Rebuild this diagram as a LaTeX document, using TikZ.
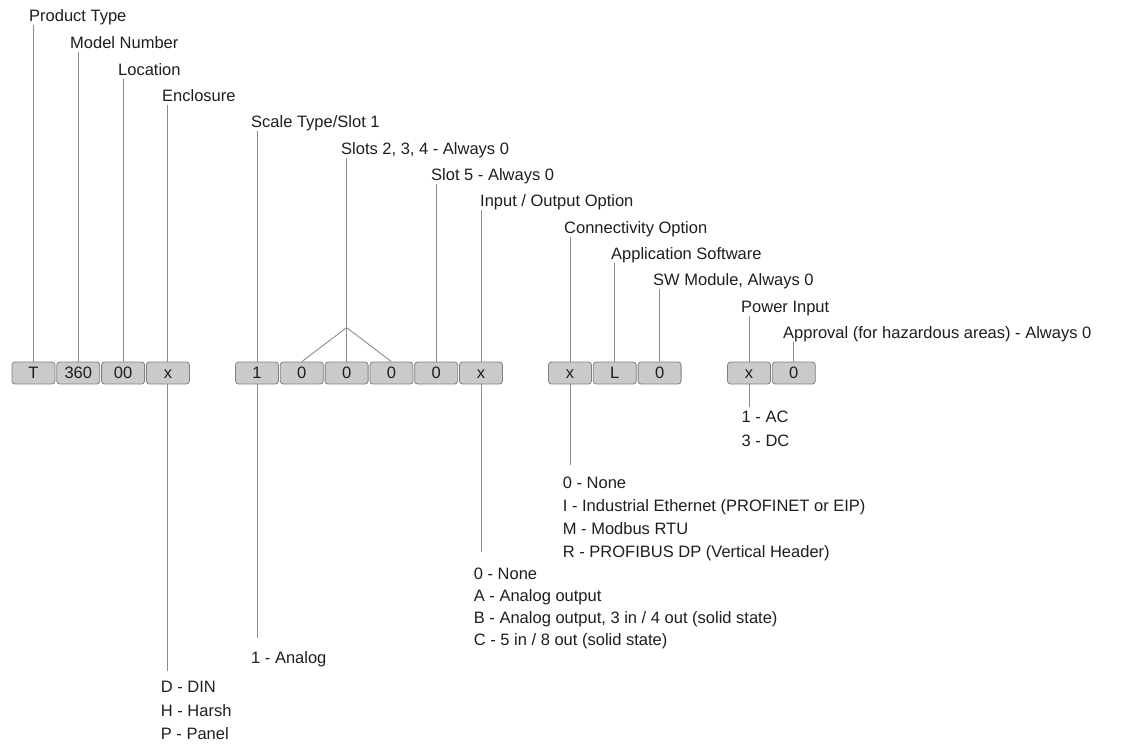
\documentclass[tikz,border=0pt]{standalone}
\usepackage{fontspec}
\setmainfont{Liberation Sans}
\usetikzlibrary{positioning}
\definecolor{boxgray}{RGB}{202, 202, 202}
\definecolor{boxedge}{RGB}{128, 128, 128}
\definecolor{linegray}{RGB}{140, 140, 140}
\definecolor{textdark}{RGB}{30, 30, 30}
\newcommand{\codefont}{\fontsize{16.5}{23}\selectfont}
\tikzset{
  codebox/.style={draw=boxedge, fill=boxgray, rounded corners=3pt, line width=0.8pt,
    minimum width=43pt, minimum height=22pt, inner sep=0pt,
    text height=11.8pt, text depth=0pt, text=textdark, font=\codefont},
  fieldlabel/.style={anchor=base west, inner sep=0.5pt, text height=12pt, text depth=3pt,
    text=textdark, font=\codefont},
  optlist/.style={anchor=north west, inner sep=0pt, align=left, text=textdark,
    font=\fontsize{16.5}{#1}\selectfont},
  optlist/.default=23,
  lead/.style={draw=linegray, line width=0.9pt}
}
\begin{document}
\begin{tikzpicture}[x=1pt, y=-1pt]
        \useasboundingbox (0,0) rectangle (1136,748);

        % Code boxes
        \node[codebox] (t1) at (33.5,373) {T};
        \node[codebox, right=1pt of t1] (t2) {360};
        \node[codebox, right=1pt of t2] (t3) {00};
        \node[codebox, right=1pt of t3] (t4) {x};

        \node[codebox] (s1) at (257,373) {1};
        \node[codebox, right=1pt of s1] (s2) {0};
        \node[codebox, right=1pt of s2] (s3) {0};
        \node[codebox, right=1pt of s3] (s4) {0};
        \node[codebox, right=1pt of s4] (s5) {0};
        \node[codebox, right=1pt of s5] (s6) {x};

        \node[codebox] (c1) at (570,373) {x};
        \node[codebox, right=1pt of c1] (c2) {L};
        \node[codebox, right=1pt of c2] (c3) {0};

        \node[codebox] (p1) at (749,373) {x};
        \node[codebox, right=1pt of p1] (p2) {0};

        % Field labels
        \node[fieldlabel] (ptype) at (28.5,21.5) {Product Type};
        \node[fieldlabel] (model) at (69.5,48.5) {Model Number};
        \node[fieldlabel] (loc) at (117.5,75) {Location};
        \node[fieldlabel] (encl) at (161.5,101.5) {Enclosure};
        \node[fieldlabel] (scale) at (250.5,127.5) {Scale Type/Slot 1};
        \node[fieldlabel] (slots) at (340.5,154) {Slots 2, 3, 4 - Always 0};
        \node[fieldlabel] (slotfive) at (430.5,180) {Slot 5 - Always 0};
        \node[fieldlabel] (io) at (479.5,206.5) {Input / Output Option};
        \node[fieldlabel] (conn) at (563.5,233) {Connectivity Option};
        \node[fieldlabel] (app) at (610.5,259.5) {Application Software};
        \node[fieldlabel] (swmod) at (652.5,285.5) {SW Module, Always 0};
        \node[fieldlabel] (power) at (740.5,312) {Power Input};
        \node[fieldlabel] (approval) at (782.5,338.5) {Approval (for hazardous areas) - Always 0};

        % Option lists
        \node[optlist=23.5] (enclopt) at (160.7,681) {D - DIN\\H - Harsh\\P - Panel};
        \node[optlist] (scaleopt) at (251,651) {1 - Analog};
        \node[optlist=22] (ioopt) at (473.7,568) {0 - None\\A - Analog output\\B - Analog output, 3 in / 4 out (solid state)\\C - 5 in / 8 out (solid state)};
        \node[optlist=23] (connopt) at (562.7,477) {0 - None\\I - Industrial Ethernet (PROFINET or EIP)\\M - Modbus RTU\\R - PROFIBUS DP (Vertical Header)};
        \node[optlist=24] (poweropt) at (741.5,411) {1 - AC\\3 - DC};

        % Leads up to the labels
        \draw[lead] (t1.north) -- (t1.north |- ptype.south);
        \draw[lead] (t2.north) -- (t2.north |- model.south);
        \draw[lead] (t3.north) -- (t3.north |- loc.south);
        \draw[lead] (t4.north) -- (t4.north |- encl.south);
        \draw[lead] (s1.north) -- (s1.north |- scale.south);
        \draw[lead] (s3.north) -- (s3.north |- slots.south);
        \draw[lead] (s5.north) -- (s5.north |- slotfive.south);
        \draw[lead] (s6.north) -- (s6.north |- io.south);
        \draw[lead] (c1.north) -- (c1.north |- conn.south);
        \draw[lead] (c2.north) -- (c2.north |- app.south);
        \draw[lead] (c3.north) -- (c3.north |- swmod.south);
        \draw[lead] (p1.north) -- (p1.north |- power.south);
        \draw[lead] (p2.north) -- (p2.north |- approval.south);

        % Fork for slots 2, 3, 4
        \coordinate[above=34pt of s3.north] (fork);
        \draw[lead] (s2.north) -- (fork) -- (s4.north);

        % Leads down to the option lists
        \draw[lead, shorten >=10pt] (t4.south) -- (t4.south |- enclopt.north);
        \draw[lead, shorten >=13pt] (s1.south) -- (s1.south |- scaleopt.north);
        \draw[lead, shorten >=16pt] (s6.south) -- (s6.south |- ioopt.north);
        \draw[lead, shorten >=12pt] (c1.south) -- (c1.south |- connopt.north);
        \draw[lead, shorten >=4pt] (p1.south) -- (p1.south |- poweropt.north);
    \end{tikzpicture}
\end{document}
